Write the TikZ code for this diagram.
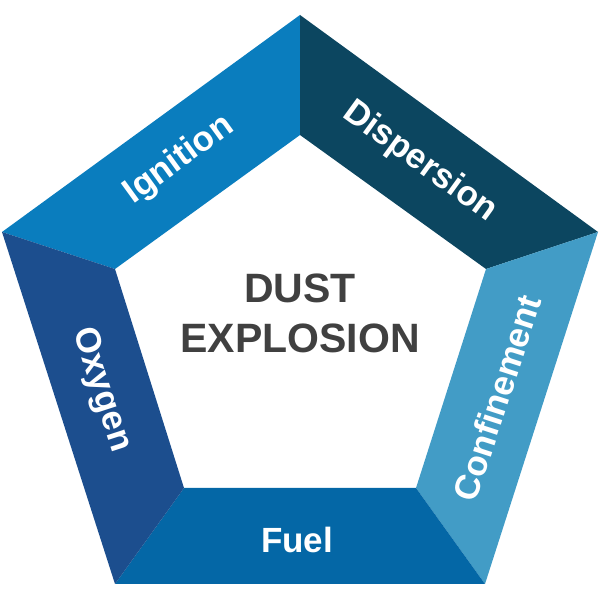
\documentclass[tikz,border=0pt]{standalone}
\usepackage{fontspec}
\setmainfont{Liberation Sans}
\definecolor{cIgn}{RGB}{10,125,190}
\definecolor{cDis}{RGB}{12,70,96}
\definecolor{cCon}{RGB}{66,156,198}
\definecolor{cFue}{RGB}{4,103,166}
\definecolor{cOxy}{RGB}{28,78,142}
\definecolor{cTxt}{RGB}{64,64,64}
\tikzset{
  lbl/.style={text=white, font=\fontsize{35}{38}\selectfont\bfseries, inner sep=0pt},
  seg/.style={draw=none}
}
\begin{document}
\begin{tikzpicture}[x=1pt,y=1pt]
\useasboundingbox (0,0) rectangle (600,600);
\coordinate (T) at (300,585);
\coordinate (L) at (2,368);
\coordinate (R) at (598,368);
\coordinate (BL) at (115,16);
\coordinate (BR) at (485,16);
\coordinate (t) at (300,465);
\coordinate (l) at (115,331);
\coordinate (r) at (486,331);
\coordinate (bl) at (184,112);
\coordinate (br) at (416,112);
\fill[cIgn] (L) -- (T) -- (t) -- (l) -- cycle;
\fill[cDis] (T) -- (R) -- (r) -- (t) -- cycle;
\fill[cCon] (R) -- (BR) -- (br) -- (r) -- cycle;
\fill[cFue] (BR) -- (BL) -- (bl) -- (br) -- cycle;
\fill[cOxy] (BL) -- (L) -- (l) -- (bl) -- cycle;
\node[lbl, rotate=36] (ign) at (179,440) {Ignition};
\node[lbl, rotate=-36] (dis) at (420,438) {Dispersion};
\node[lbl, rotate=72] (con) at (497,202) {Confinement};
\node[lbl] (fue) at (297,60) {Fuel};
\node[lbl, rotate=-72] (oxy) at (101,210) {Oxygen};
\node[text=cTxt, font=\fontsize{41}{50}\selectfont\bfseries, align=center, inner sep=0pt] (title) at (300,287) {DUST\\EXPLOSION};
\end{tikzpicture}
\end{document}
